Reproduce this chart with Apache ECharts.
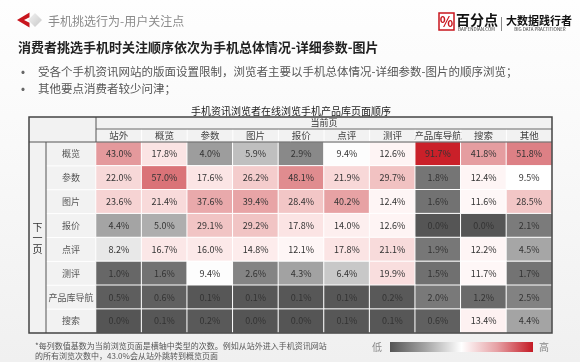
<!DOCTYPE html>
<html><head><meta charset="utf-8">
<script src="https://cdn.jsdelivr.net/npm/echarts@6/dist/echarts.min.js"></script>
<style>
html,body{margin:0;padding:0;background:#f6f6f6;}
#c{width:580px;height:362px;background:linear-gradient(180deg,#fefefe 0%,#f9f9f9 40%,#f0f0f0 100%);}
</style>
</head><body><div id="c"></div>
<script>
// Current page (columns) and next page (rows)
const currentPages = ['站外','概览','参数','图片','报价','点评','测评','产品库导航','搜索','其他'];
const nextPages = ['概览','参数','图片','报价','点评','测评','产品库导航','搜索'];
// Percent values per next-page row, in currentPages order
const rowGaiLan    = [43.0, 17.8, 4.0, 5.9, 2.9, 9.4, 12.6, 91.7, 41.8, 51.8];
const rowCanShu    = [22.0, 57.0, 17.6, 26.2, 48.1, 21.9, 29.7, 1.8, 12.4, 9.5];
const rowTuPian    = [23.6, 21.4, 37.6, 39.4, 28.4, 40.2, 12.4, 1.6, 11.6, 28.5];
const rowBaoJia    = [4.4, 5.0, 29.1, 29.2, 17.8, 14.0, 12.6, 0.0, 0.0, 2.1];
const rowDianPing  = [8.2, 16.7, 16.0, 14.8, 12.1, 17.8, 21.1, 1.9, 12.2, 4.5];
const rowCePing    = [1.0, 1.6, 9.4, 2.6, 4.3, 6.4, 19.9, 1.5, 11.7, 1.7];
const rowDaoHang   = [0.5, 0.6, 0.1, 0.1, 0.1, 0.1, 0.2, 2.0, 1.2, 2.5];
const rowSouSuo    = [0.0, 0.1, 0.2, 0.0, 0.0, 0.1, 0.1, 0.6, 13.4, 4.4];
const rows = [rowGaiLan, rowCanShu, rowTuPian, rowBaoJia, rowDianPing, rowCePing, rowDaoHang, rowSouSuo];

const FONT = '"Noto Sans CJK SC","Noto Sans",sans-serif';
const data = [];
rows.forEach((r, i) => r.forEach((v, j) => data.push([j, i, v])));

// table geometry (layout only)
const L = 29, R = 552, T = 117, B = 333, DX = 96, H1 = 129, H2 = 142, LX = 46;
const colW = (R - DX) / currentPages.length;
const rowH = (B - H2) / nextPages.length;

const g = [];
// header & label backgrounds
g.push({type:'rect', z:0, shape:{x:L, y:T, width:R-L, height:H2-T}, style:{fill:'#f2f2f2'}});
g.push({type:'rect', z:0, shape:{x:L, y:H2, width:DX-L, height:B-H2}, style:{fill:'#f2f2f2'}});
// white separators in label column
for (let i = 1; i < nextPages.length; i++) {
  const y = H2 + i*rowH;
  g.push({type:'line', z:1, shape:{x1:LX, y1:y, x2:DX, y2:y}, style:{stroke:'#ffffff', lineWidth:1}});
}
for (let j = 1; j < currentPages.length; j++) {
  const x = DX + j*colW;
  g.push({type:'line', z:1, shape:{x1:x, y1:H1, x2:x, y2:H2}, style:{stroke:'#ffffff', lineWidth:1}});
}
// table lines
g.push({type:'line', z:20, shape:{x1:DX, y1:H1, x2:R, y2:H1}, style:{stroke:'#6a6a6a', lineWidth:1}});
g.push({type:'line', z:20, shape:{x1:L, y1:H2, x2:R, y2:H2}, style:{stroke:'#555', lineWidth:1}});
g.push({type:'line', z:20, shape:{x1:DX, y1:T, x2:DX, y2:H2}, style:{stroke:'#555', lineWidth:1}});
g.push({type:'line', z:20, shape:{x1:LX, y1:H2, x2:LX, y2:B}, style:{stroke:'#555', lineWidth:1}});
g.push({type:'rect', z:20, shape:{x:L, y:T, width:R-L, height:B-T}, style:{fill:'none', stroke:'#444', lineWidth:1.5}});
// table texts
g.push({type:'text', z:21, style:{text:'手机资讯浏览者在线浏览手机产品库页面顺序', x:291, y:111, fill:'#222', font:'10px '+FONT, textAlign:'center', textVerticalAlign:'middle'}});
g.push({type:'text', z:21, style:{text:'当前页', x:(DX+R)/2, y:123, fill:'#333', font:'9px '+FONT, textAlign:'center', textVerticalAlign:'middle'}});
g.push({type:'text', z:21, style:{text:'下\n一\n页', x:(L+LX)/2, y:238, fill:'#333', font:'10px '+FONT, lineHeight:11, textAlign:'center', textVerticalAlign:'middle'}});
// footnote
g.push({type:'text', z:21, style:{text:'*每列数值基数为当前浏览页面是横轴中类型的次数。例如从站外进入手机资讯网站\n的所有浏览次数中，43.0%会从站外跳转到概览页面', x:35, y:350.5, fill:'#555', font:'8px '+FONT, lineHeight:10, textAlign:'left', textVerticalAlign:'middle'}});
// legend gradient
g.push({type:'text', z:21, style:{text:'低', x:377, y:347, fill:'#888', font:'10px '+FONT, textAlign:'center', textVerticalAlign:'middle'}});
g.push({type:'text', z:21, style:{text:'高', x:544, y:347, fill:'#888', font:'10px '+FONT, textAlign:'center', textVerticalAlign:'middle'}});
g.push({type:'rect', z:21, shape:{x:390, y:342, width:143, height:10}, style:{fill:new echarts.graphic.LinearGradient(0,0,1,0,[
  {offset:0, color:'#555555'},{offset:0.25, color:'#a5a5a5'},{offset:0.5, color:'#ffffff'},{offset:0.75, color:'#e6a0a4'},{offset:1, color:'#c41a24'}])}});
// top-left logo
g.push({type:'polygon', z:5, shape:{points:[[35,13],[42,20],[35,27],[28,20]]}, style:{fill:new echarts.graphic.LinearGradient(0,0,1,1,[{offset:0,color:'#f4f4f4'},{offset:1,color:'#c8c8c8'}])}});
g.push({type:'polygon', z:6, shape:{points:[[29.5,12.5],[17,20],[29.5,27.5],[29.5,22.8],[24,20],[29.5,17.2]]}, style:{fill:'#c8161e'}});
g.push({type:'text', z:6, style:{text:'手机挑选行为-用户关注点', x:48, y:21, fill:'#8a8a8a', font:'12px '+FONT, textAlign:'left', textVerticalAlign:'middle'}});
// top-right logo
g.push({type:'rect', z:6, shape:{x:439, y:13, width:15, height:17}, style:{fill:'#fff', stroke:'#c8161e', lineWidth:1.5}});
g.push({type:'text', z:7, style:{text:'%', x:446.5, y:21.5, fill:'#c8161e', font:'bold 14px '+FONT, textAlign:'center', textVerticalAlign:'middle'}});
g.push({type:'text', z:6, style:{text:'百分点', x:456, y:19.5, fill:'#111', font:'bold 14px '+FONT, textAlign:'left', textVerticalAlign:'middle'}});
g.push({type:'text', z:6, style:{text:'BAIFENDIAN.COM', x:476.5, y:29, fill:'#333', font:'4.5px '+FONT, textAlign:'center', textVerticalAlign:'middle'}});
g.push({type:'line', z:6, shape:{x1:501.5, y1:17, x2:501.5, y2:31}, style:{stroke:'#888', lineWidth:1}});
g.push({type:'text', z:6, style:{text:'大数据践行者', x:506, y:21, fill:'#111', font:'bold 11px '+FONT, textAlign:'left', textVerticalAlign:'middle'}});
g.push({type:'text', z:6, style:{text:'BIG DATA PRACTITIONER', x:540, y:29.5, fill:'#333', font:'4.5px '+FONT, textAlign:'center', textVerticalAlign:'middle'}});
// titles
g.push({type:'text', z:6, style:{text:'消费者挑选手机时关注顺序依次为手机总体情况-详细参数-图片', x:18, y:47, fill:'#222', font:'bold 13px '+FONT, textAlign:'left', textVerticalAlign:'middle'}});
g.push({type:'text', z:6, style:{text:'•', x:23, y:72, fill:'#666', font:'15px '+FONT, textAlign:'center', textVerticalAlign:'middle'}});
g.push({type:'text', z:6, style:{text:'•', x:23, y:89, fill:'#666', font:'15px '+FONT, textAlign:'center', textVerticalAlign:'middle'}});
g.push({type:'text', z:6, style:{text:'受各个手机资讯网站的版面设置限制，浏览者主要以手机总体情况-详细参数-图片的顺序浏览；', x:38, y:72, fill:'#555', font:'11.5px '+FONT, textAlign:'left', textVerticalAlign:'middle'}});
g.push({type:'text', z:6, style:{text:'其他要点消费者较少问津；', x:38, y:89, fill:'#555', font:'11.5px '+FONT, textAlign:'left', textVerticalAlign:'middle'}});

const chart = echarts.init(document.getElementById('c'), null, {renderer:'canvas'});
chart.setOption({
  animation:false,
  backgroundColor:'transparent',
  textStyle:{fontFamily:FONT},
  grid:{left:DX, right:580-R, top:H2, bottom:362-B},
  xAxis:{type:'category', data:currentPages, position:'top',
    axisLine:{show:false}, axisTick:{show:false}, splitLine:{show:false},
    axisLabel:{color:'#444', fontSize:9.5, margin:6.5, verticalAlign:'middle', interval:0}},
  yAxis:{type:'category', data:nextPages, inverse:true,
    axisLine:{show:false}, axisTick:{show:false}, splitLine:{show:false},
    axisLabel:{color:'#555', fontSize:9, margin:25, align:'center', interval:0}},
  visualMap:{show:false, type:'continuous', min:0, max:95, dimension:2, seriesIndex:0,
    inRange:{color:['#555555','#aaaaaa','#ffffff','#fdeeee','#fae1e1','#f6d3d3','#f2c6c6','#edb6b8','#e9a8aa','#e49a9d','#e08e91','#dd7f84','#da7378','#d7676d','#d45b62','#d24f57','#d0444c','#ce3841','#cc2d36','#cb222b','#c91b24']}},
  series:[{type:'heatmap', data:data, z:2,
    itemStyle:{borderColor:'#ffffff', borderWidth:1},
    label:{show:true, color:'#333', fontSize:9, formatter:p => p.value[2].toFixed(1)+'%'},
    emphasis:{disabled:true}}],
  graphic:g
});
</script>
</body></html>
